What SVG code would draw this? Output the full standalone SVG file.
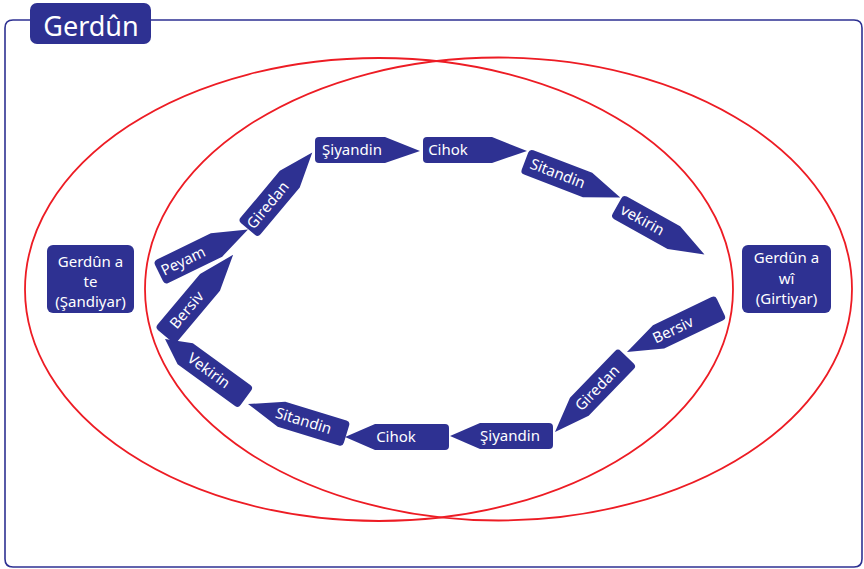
<svg xmlns="http://www.w3.org/2000/svg" width="864" height="569" viewBox="0 0 864 569">
<style>
.bg{fill:#ffffff}
.frame{fill:none;stroke:#2E3192;stroke-width:1.6}
.ring{fill:none;stroke:#ED1C24;stroke-width:1.8}
.shape{fill:#2E3192}
.lbl{font-family:"Noto Sans","Open Sans","Liberation Sans",sans-serif;font-size:15px;fill:#ffffff;text-anchor:middle}
.title{font-family:"Noto Sans","Open Sans","Liberation Sans",sans-serif;font-size:27px;fill:#ffffff;text-anchor:middle}
</style>
<rect class="bg" x="0" y="0" width="864" height="569"/>
<g id="frame">
<path class="frame" d="M30,20 H13 Q5,20 5,28 V559 Q5,567 13,567 H854 Q862,567 862,559 V28 Q862,20 854,20 H151"/>
</g>
<g id="title">
<rect class="shape" x="30" y="3" width="121" height="41" rx="7"/>
<text class="title" x="91" y="36">Gerdûn</text>
</g>
<g id="ellipses">
<ellipse class="ring" cx="379" cy="289.5" rx="354" ry="231.5"/>
<ellipse class="ring" cx="498.5" cy="289" rx="353.5" ry="231.5"/>
</g>
<g id="node-left">
<rect class="shape" x="47" y="245" width="87" height="68" rx="6"/>
<text class="lbl" x="90.5" y="267">Gerdûn a</text>
<text class="lbl" x="90.5" y="287">te</text>
<text class="lbl" x="90.5" y="307">(Şandiyar)</text>
</g>
<g id="node-right">
<rect class="shape" x="742" y="245" width="89" height="68" rx="6"/>
<text class="lbl" x="786.5" y="263">Gerdûn a</text>
<text class="lbl" x="786.5" y="284">wî</text>
<text class="lbl" x="786.5" y="304">(Girtiyar)</text>
</g>
<g id="connectors"></g>
<!-- top chain: pointer on the right -->
<g id="top-peyam" transform="translate(159,273) rotate(-26)">
<path class="shape" d="M4,-13 H64 L99,0 L64,13 H4 A4,4 0 0 1 0,9 V-9 A4,4 0 0 1 4,-13 Z"/>
<text class="lbl" x="27" y="5">Peyam</text>
</g>
<g id="top-giredan" transform="translate(248,229) rotate(-50)">
<path class="shape" d="M4,-13 H65 L100,0 L65,13 H4 A4,4 0 0 1 0,9 V-9 A4,4 0 0 1 4,-13 Z"/>
<text class="lbl" x="31" y="5">Giredan</text>
</g>
<g id="top-siyandin" transform="translate(315,150)">
<path class="shape" d="M4,-13 H70 L105,1 L70,13 H4 A4,4 0 0 1 0,9 V-9 A4,4 0 0 1 4,-13 Z"/>
<text class="lbl" x="37" y="5">Şiyandin</text>
</g>
<g id="top-cihok" transform="translate(423,150)">
<path class="shape" d="M4,-13 H69 L104,1 L69,13 H4 A4,4 0 0 1 0,9 V-9 A4,4 0 0 1 4,-13 Z"/>
<text class="lbl" x="25" y="5">Cihok</text>
</g>
<g id="top-sitandin" transform="translate(525,161) rotate(21)">
<path class="shape" d="M4,-13 H67 L102,0 L67,13 H4 A4,4 0 0 1 0,9 V-9 A4,4 0 0 1 4,-13 Z"/>
<text class="lbl" x="35" y="5">Sitandin</text>
</g>
<g id="top-vekirin" transform="translate(617,206) rotate(29)">
<path class="shape" d="M4,-13 H65 L100,0 L65,13 H4 A4,4 0 0 1 0,9 V-9 A4,4 0 0 1 4,-13 Z"/>
<text class="lbl" x="29" y="5">vekirin</text>
</g>
<!-- bottom chain: pointer on the left -->
<g id="bot-bersiv" transform="translate(627,352) rotate(-25.6)">
<path class="shape" d="M0,0 L35,-13 H100 A4,4 0 0 1 104,-9 V9 A4,4 0 0 1 100,13 H35 Z"/>
<text class="lbl" x="51" y="5">Bersiv</text>
</g>
<g id="bot-giredan" transform="translate(555,432) rotate(-46)">
<path class="shape" d="M0,0 L35,-13 H100 A4,4 0 0 1 104,-9 V9 A4,4 0 0 1 100,13 H35 Z"/>
<text class="lbl" x="61" y="5">Giredan</text>
</g>
<g id="bot-siyandin" transform="translate(450,436)">
<path class="shape" d="M0,0 L30,-13 H99 A4,4 0 0 1 103,-9 V9 A4,4 0 0 1 99,13 H30 Z"/>
<text class="lbl" x="60" y="5">Şiyandin</text>
</g>
<g id="bot-cihok" transform="translate(345,437)">
<path class="shape" d="M0,0 L30,-13 H100 A4,4 0 0 1 104,-9 V9 A4,4 0 0 1 100,13 H30 Z"/>
<text class="lbl" x="51" y="5">Cihok</text>
</g>
<g id="bot-sitandin" transform="translate(248,404) rotate(17)">
<path class="shape" d="M0,0 L35,-13 H99 A4,4 0 0 1 103,-9 V9 A4,4 0 0 1 99,13 H35 Z"/>
<text class="lbl" x="58" y="5">Sitandin</text>
</g>
<g id="bot-vekirin" transform="translate(165,339) rotate(36)">
<path class="shape" d="M0,0 L25,-13 H96 A4,4 0 0 1 100,-9 V9 A4,4 0 0 1 96,13 H25 Z"/>
<text class="lbl" x="54" y="5">Vekirin</text>
</g>
<g id="left-bersiv" transform="translate(165,336) rotate(-50)">
<path class="shape" d="M4,-13 H70 L106,0 L70,13 H4 A4,4 0 0 1 0,9 V-9 A4,4 0 0 1 4,-13 Z"/>
<text class="lbl" x="34" y="5">Bersiv</text>
</g>
</svg>
